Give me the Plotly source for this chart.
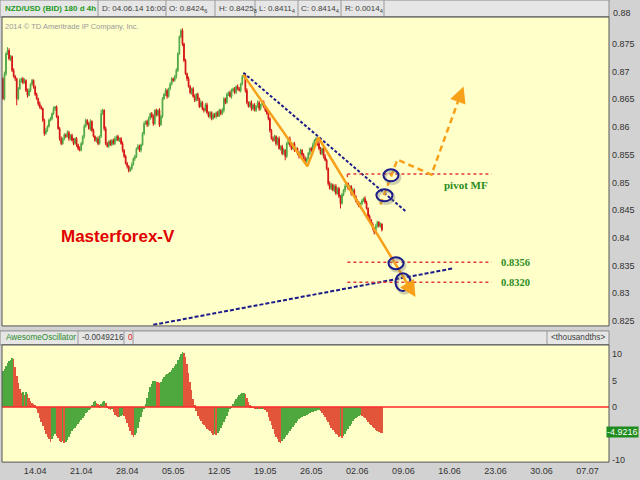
import plotly.graph_objects as go

# ---------------- data (4h bars, index 0 = Mon 14.04 00:00) ----------------
first_bar = -21
first_open = 0.8687
close = [
    0.8651, 0.8696, 0.8732, 0.8738, 0.8723, 0.8727, 0.8702, 0.8691, 0.8687, 0.8651,
    0.8669, 0.8684, 0.8687, 0.8680, 0.8684, 0.8666, 0.8657, 0.8666, 0.8677, 0.8684, 0.8673,
    0.8659, 0.8651, 0.8642, 0.8636, 0.8633, 0.8612, 0.8588, 0.8594, 0.8601, 0.8612,
    0.8615, 0.8624, 0.8633, 0.8636, 0.8619, 0.8597, 0.8579, 0.8570, 0.8579, 0.8586,
    0.8583, 0.8590, 0.8579, 0.8585, 0.8576, 0.8570, 0.8579, 0.8568, 0.8561, 0.8558,
    0.8570, 0.8583, 0.8601, 0.8612, 0.8606, 0.8597, 0.8610, 0.8594, 0.8583, 0.8576,
    0.8579, 0.8570, 0.8583, 0.8624, 0.8630, 0.8597, 0.8570, 0.8565, 0.8574, 0.8568,
    0.8576, 0.8570, 0.8579, 0.8583, 0.8576, 0.8579, 0.8570, 0.8558, 0.8547, 0.8534,
    0.8529, 0.8521, 0.8525, 0.8532, 0.8543, 0.8547, 0.8561, 0.8565, 0.8558, 0.8568,
    0.8588, 0.8606, 0.8610, 0.8604, 0.8615, 0.8624, 0.8619, 0.8606, 0.8630, 0.8622,
    0.8630, 0.8604, 0.8619, 0.8651, 0.8659, 0.8666, 0.8655, 0.8669, 0.8677, 0.8687,
    0.8684, 0.8691, 0.8702, 0.8732, 0.8763, 0.8774, 0.8750, 0.8720, 0.8696, 0.8687,
    0.8673, 0.8662, 0.8669, 0.8655, 0.8648, 0.8659, 0.8651, 0.8637, 0.8644, 0.8633,
    0.8630, 0.8640, 0.8626, 0.8619, 0.8626, 0.8615, 0.8622, 0.8619, 0.8626, 0.8620,
    0.8630, 0.8624, 0.8630, 0.8651, 0.8644, 0.8659, 0.8662, 0.8655, 0.8666, 0.8669,
    0.8662, 0.8673, 0.8669, 0.8666, 0.8678, 0.8691, 0.8694, 0.8666, 0.8644, 0.8637,
    0.8644, 0.8633, 0.8640, 0.8630, 0.8637, 0.8644, 0.8633, 0.8640, 0.8644, 0.8637,
    0.8630, 0.8624, 0.8615, 0.8594, 0.8579, 0.8576, 0.8583, 0.8570, 0.8579, 0.8561,
    0.8565, 0.8552, 0.8558, 0.8547, 0.8570, 0.8579, 0.8568, 0.8561, 0.8570, 0.8558,
    0.8561, 0.8552, 0.8547, 0.8558, 0.8550, 0.8543, 0.8538, 0.8543, 0.8552, 0.8561,
    0.8558, 0.8568, 0.8576, 0.8579, 0.8570, 0.8561, 0.8552, 0.8561, 0.8547, 0.8540,
    0.8525, 0.8498, 0.8489, 0.8496, 0.8486, 0.8493, 0.8480, 0.8489, 0.8475, 0.8462,
    0.8478, 0.8486, 0.8493, 0.8498, 0.8489, 0.8493, 0.8480, 0.8486, 0.8475, 0.8467,
    0.8462, 0.8457, 0.8462, 0.8467, 0.8471, 0.8464, 0.8453, 0.8439, 0.8432, 0.8425,
    0.8417, 0.8410, 0.8421, 0.8428, 0.8421, 0.8425, 0.84144,
]
# wick lengths in pips (0.0001) above/below the candle body
up_wick = [
    3, 4, 3, 6, 4, 3, 2, 4, 3, 2, 3, 4, 2, 3, 4, 2, 3, 4, 2, 3, 2,
    2, 3, 2, 4, 3, 2, 3, 4, 2, 3,
    3, 2, 4, 2, 3, 2, 3, 4, 2, 3,
    2, 4, 3, 2, 3, 4, 2, 3, 2, 4,
    3, 2, 4, 3, 2, 3, 4, 2, 3, 2,
    3, 4, 2, 7, 3, 2, 4, 3, 2, 3,
    2, 3, 4, 2, 3, 2, 3, 4, 2, 3,
    3, 2, 3, 4, 2, 3, 2, 4, 3, 2,
    3, 4, 2, 3, 4, 2, 3, 4, 2, 3,
    2, 4, 3, 3, 2, 4, 3, 2, 4, 3,
    2, 3, 4, 3, 2, 3, 4, 2, 3, 2,
    4, 3, 2, 3, 4, 2, 3, 2, 4, 3,
    2, 3, 4, 2, 3, 2, 4, 3, 2, 3,
    3, 2, 4, 3, 2, 3, 2, 4, 3, 2,
    3, 2, 4, 3, 2, 3, 2, 3, 4, 2,
    3, 4, 2, 3, 2, 4, 3, 2, 3, 4,
    2, 3, 4, 3, 2, 4, 3, 2, 3, 4,
    2, 3, 4, 2, 3, 2, 4, 3, 2, 3,
    3, 2, 4, 3, 2, 3, 4, 2, 3, 2,
    3, 4, 2, 3, 2, 4, 3, 2, 3, 4,
    3, 2, 4, 3, 2, 3, 4, 2, 3, 2,
    3, 2, 4, 3, 2, 3, 2, 4, 3, 2,
    3, 4, 2, 3, 2, 4, 3, 2, 3, 2,
    3, 2, 4, 3, 2, 3, 1.2,
]
dn_wick = [
    2, 3, 4, 2, 3, 4, 3, 2, 4, 12, 3, 2, 4, 3, 2, 3, 4, 2, 3, 2, 4,
    3, 2, 4, 3, 2, 3, 4, 2, 3, 2,
    2, 3, 2, 4, 3, 2, 4, 3, 2, 3,
    3, 2, 4, 3, 2, 3, 2, 4, 3, 2,
    2, 3, 4, 2, 3, 2, 4, 3, 2, 3,
    4, 3, 2, 3, 2, 4, 3, 2, 3, 2,
    3, 2, 3, 4, 2, 3, 2, 4, 3, 2,
    4, 3, 2, 3, 2, 4, 3, 2, 3, 4,
    2, 3, 2, 4, 3, 2, 3, 4, 2, 3,
    3, 4, 2, 3, 2, 3, 4, 2, 3, 2,
    3, 2, 4, 3, 2, 3, 4, 3, 2, 4,
    2, 3, 4, 2, 3, 2, 4, 3, 2, 3,
    4, 2, 3, 2, 4, 3, 2, 3, 4, 2,
    2, 3, 2, 4, 3, 2, 3, 2, 4, 3,
    3, 2, 3, 2, 4, 3, 2, 4, 3, 2,
    2, 4, 3, 2, 3, 2, 4, 3, 2, 3,
    3, 2, 3, 4, 2, 3, 2, 4, 3, 2,
    4, 3, 2, 7, 3, 2, 4, 3, 2, 3,
    2, 3, 4, 2, 3, 2, 3, 4, 2, 3,
    3, 2, 3, 2, 4, 3, 2, 3, 4, 2,
    3, 4, 2, 3, 2, 4, 3, 2, 3, 9,
    2, 3, 4, 2, 3, 2, 4, 3, 2, 3,
    3, 2, 4, 3, 2, 3, 2, 4, 3, 2,
    3, 4, 2, 3, 2, 3, 3,
]
# Awesome Oscillator, thousandths
ao = [
    6.8, 7.2, 7.8, 8.3, 8.6, 8.9, 9.3, 9.0,
    7.5, 5.8, 4.5, 3.4,
    2.6, 2.9, 2.3, 2.8, 2.4,
    1.8, 1.2, 0.8, 0.5, 0.3,
    -0.4, -1.2, -2.0, -2.8, -3.6, -4.3, -5.0, -5.6, -6.1, -6.6,
    -6.0, -5.4, -5.1,
    -5.5, -5.9, -6.3, -6.6, -6.4, -6.8, -6.5, -6.2,
    -5.6, -5.0, -4.5, -4.2, -3.9, -3.6, -3.2, -2.8, -2.4, -2.0, -1.6, -1.2, -0.9, -0.5, -0.2,
    0.4, 0.9, 1.1, 0.8, 0.5, 0.3, 0.6, 1.0, 1.2, 0.7, 0.2,
    -0.2, -0.5, -0.4,
    -1.0, -1.4, -1.7, -1.9, -1.8, -1.6, -1.5, -1.7, -2.2,
    -3.0, -3.8, -4.5, -5.2, -5.6, -5.3, -4.8, -3.9, -2.8,
    -1.8, -0.9, -0.2, 0.6,
    1.8, 2.8, 3.7, 4.4, 4.9,
    4.9, 4.8, 4.7, 4.6, 4.7,
    5.2, 5.6, 6.0, 6.2, 6.4, 6.7, 7.0, 7.4, 7.8, 8.2, 8.8,
    9.4, 10.0, 10.4, 10.1, 9.5,
    8.2, 6.5, 4.8, 3.2, 1.6, 0.3,
    -0.8, -1.6, -2.2, -2.7, -3.1, -3.4, -3.8, -4.2, -4.4, -4.6, -4.9, -5.2,
    -5.0, -5.3, -4.8, -4.5, -4.0,
    -3.4, -2.8, -2.2, -1.6, -1.0, -0.4, 0.2, 0.6, 1.1,
    1.5, 1.9, 2.2, 2.4, 2.6, 2.7, 2.5,
    1.8, 1.0, 0.3,
    0.1, -0.1, -0.2, -0.3, -0.2, -0.4, -0.3, -0.2, -0.4, -0.6, -1.0, -1.8, -2.6,
    -3.4, -4.2, -5.0, -5.6, -6.1, -6.5, -6.7, -6.3,
    -6.0, -5.6, -5.3, -4.9, -4.5, -4.1, -3.7, -3.3, -3.0, -2.6, -2.3, -2.0,
    -1.9, -1.7, -1.6, -1.4, -1.3, -1.2, -1.0, -0.9, -0.8, -0.7, -0.6, -0.6, -0.8,
    -1.1, -1.5, -1.9, -2.4, -2.9, -3.4, -3.9, -4.3, -4.7, -5.0, -5.3, -5.6, -5.4, -5.8, -5.5,
    -5.0, -4.6, -4.1, -3.6, -3.1, -2.7, -2.3, -2.0, -1.8, -1.6, -1.5, -1.6, -1.8, -2.1,
    -2.5, -2.8, -3.1, -3.4, -3.7, -4.0, -4.3, -4.5, -4.7, -4.8, -4.9216,
]

week_ticks = [0, 30, 60, 90, 120, 150, 180, 210, 240, 270, 300, 330, 360]
week_labels = ["14.04", "21.04", "28.04", "05.05", "12.05", "19.05", "26.05",
               "02.06", "09.06", "16.06", "23.06", "30.06", "07.07"]
price_ticks = [0.825, 0.83, 0.835, 0.84, 0.845, 0.85, 0.855, 0.86, 0.865, 0.87, 0.875]
price_labels = ["0.825", "0.83", "0.835", "0.84", "0.845", "0.85", "0.855", "0.86",
                "0.865", "0.87", "0.875"]
ao_ticks = [10, 5, 0, -10]
ao_labels = ["10", "5", "0", "-10"]

# drawn analysis (bar index, price)
trend_hi_x, trend_hi_y = [135.7, 241.4], [0.8698, 0.8448]
trend_lo_x, trend_lo_y = [77.0, 272.7], [0.8243, 0.8345]
wave_x, wave_y = [135.7, 177.4, 184.6, 247.9], [0.8694, 0.8529, 0.8581, 0.8293]
alt_x, alt_y = [225.0, 236.1, 258.3, 279.2], [0.8460, 0.8541, 0.8514, 0.8673]
level_names = ["pivot MF", "0.8356", "0.8320"]
level_prices = [0.8515, 0.8356, 0.8320]
level_start, level_end = 203.5, 297.5
circles = [  # x0, x1, y0, y1
    (227.0, 236.8, 0.85019, 0.85235),
    (222.4, 232.9, 0.84659, 0.84875),
    (230.3, 240.1, 0.83435, 0.83651),
    (234.8, 244.6, 0.83040, 0.83363),
]

# ---------------- build ----------------
n = len(close)
bars = list(range(first_bar, first_bar + n))
opens = [first_open] + close[:-1]
highs = [max(o, c) + w * 0.0001 for o, c, w in zip(opens, close, up_wick)]
lows = [min(o, c) - w * 0.0001 for o, c, w in zip(opens, close, dn_wick)]

ao_colors = []
for i, v in enumerate(ao):
    prev = ao[i - 1] if i > 0 else v - 1
    ao_colors.append("#4FA83D" if v >= prev else "#E2553A")

W, H = 640, 480
px = lambda x: x / W
py = lambda y: 1 - y / H

ORANGE = "#F7A11A"
NAVY = "#1C1C8A"
DOTRED = "#E23A3A"
GREEN_TXT = "#2A8C1E"
SANS = "Liberation Sans"

fig = go.Figure()
fig.add_trace(go.Candlestick(
    x=bars[:len(close)], open=opens, high=highs, low=lows, close=close,
    increasing=dict(line=dict(color="#4EA645", width=1), fillcolor="#7EC56E"),
    decreasing=dict(line=dict(color="#D41515", width=1), fillcolor="#D41515"),
    whiskerwidth=0, xaxis="x", yaxis="y", hoverinfo="skip", showlegend=False))

fig.add_trace(go.Bar(x=bars[:len(ao)], y=ao, marker=dict(color=ao_colors, line=dict(width=0)),
                     width=0.42, xaxis="x2", yaxis="y2", showlegend=False))

# trend lines
fig.add_trace(go.Scatter(x=trend_hi_x, y=trend_hi_y, mode="lines",
                         line=dict(color=NAVY, width=2, dash="3px,2px"), showlegend=False))
fig.add_trace(go.Scatter(x=trend_lo_x, y=trend_lo_y, mode="lines",
                         line=dict(color=NAVY, width=2, dash="4px,2px"), showlegend=False))
# red dotted levels
for p in level_prices:
    fig.add_trace(go.Scatter(x=[level_start, level_end], y=[p, p], mode="lines",
                             line=dict(color=DOTRED, width=1.5, dash="dot"), showlegend=False))
fig.add_trace(go.Scatter(x=[level_start, level_start], y=[level_prices[0], level_prices[0] - 0.0010],
                         mode="lines", line=dict(color=DOTRED, width=1.5, dash="dot"), showlegend=False))
# orange waves
fig.add_trace(go.Scatter(x=wave_x[:-1] + [wave_x[-1] - 1.5], y=wave_y[:-1] + [wave_y[-1] + 0.0007],
                         mode="lines", line=dict(color=ORANGE, width=2.5), showlegend=False))
fig.add_trace(go.Scatter(x=alt_x[:-1] + [alt_x[-1] - 1.5], y=alt_y[:-1] + [alt_y[-1] - 0.0011],
                         mode="lines", line=dict(color=ORANGE, width=2.5, dash="6px,4px"),
                         showlegend=False))

shapes = []
# circles with faint shadow
for x0, x1, y0, y1 in circles:
    shapes.append(dict(type="circle", xref="x", yref="y", x0=x0 + 1.0, x1=x1 + 1.0,
                       y0=y0 - 0.0004, y1=y1 - 0.0004,
                       line=dict(color="rgba(120,120,120,0.35)", width=3)))
    shapes.append(dict(type="circle", xref="x", yref="y", x0=x0, x1=x1, y0=y0, y1=y1,
                       line=dict(color=NAVY, width=2)))
# AO zero line
shapes.append(dict(type="line", xref="x2 domain", yref="y2", x0=0, x1=1, y0=0, y1=0,
                   line=dict(color="#FF2A2A", width=1.5)))
# header bars
for (ya, yb) in [(0, 17), (333, 347)]:
    shapes.append(dict(type="rect", xref="paper", yref="paper", x0=px(0), x1=px(609),
                       y0=py(yb), y1=py(ya), fillcolor="#E6E6E6",
                       line=dict(color="#8A8A8A", width=1), layer="below"))
for xs in [98, 166, 215, 255, 298, 341, 384]:
    shapes.append(dict(type="line", xref="paper", yref="paper", x0=px(xs), x1=px(xs),
                       y0=py(17), y1=py(0), line=dict(color="#9A9A9A", width=1)))
for xs in [78, 124, 133, 547]:
    shapes.append(dict(type="line", xref="paper", yref="paper", x0=px(xs), x1=px(xs),
                       y0=py(347), y1=py(333), line=dict(color="#9A9A9A", width=1)))
# plot borders
for (ya, yb) in [(17, 328), (347, 465)]:
    shapes.append(dict(type="rect", xref="paper", yref="paper", x0=px(2), x1=px(609),
                       y0=py(yb), y1=py(ya), line=dict(color="#555555", width=1)))

ann = []
def txt(x, y, s, color="#404040", size=8, anchor="left", bold=False, family=SANS, bg=None):
    d = dict(x=px(x), y=py(y), xref="paper", yref="paper", text=("<b>%s</b>" % s) if bold else s,
             showarrow=False, xanchor=anchor, yanchor="middle",
             font=dict(color=color, size=size, family=family))
    if bg:
        d["bgcolor"] = bg
        d["borderpad"] = 0
    ann.append(d)

txt(3, 9, "NZD/USD (BID) 180 d 4h", color="#1E9A1E", size=8, bold=True)
txt(100, 9, "D: 04.06.14 16:00", size=8)
txt(167, 9, "O: 0.8424<sub>6</sub>", size=8)
txt(217, 9, "H: 0.8425<sub>8</sub>", size=8)
txt(257, 9, "L: 0.8411<sub>4</sub>", size=8)
txt(299, 9, "C: 0.8414<sub>4</sub>", size=8)
txt(343, 9, "R: 0.0014<sub>4</sub>", size=8)
txt(3, 27, "2014 © TD Ameritrade IP Company, Inc.", color="#9A9A9A", size=7.5)
txt(4, 340, "AwesomeOscillator", color="#2A8A2A", size=8.2)
txt(80, 340, "-0.0049216", size=8.2)
txt(126, 340, "0", color="#E02020", size=8.2)
txt(607, 340, "&lt;thousandths&gt;", size=8.2, anchor="right")
txt(59, 238, "Masterforex-V", color="#E00000", size=17, bold=True)
txt(639, 435, "-4.9216", color="#FFFFFF", size=9, bg="#1E8C1E", anchor="right")
txt(611, 13, "0.88", color="#333333", size=9)

for name, p in zip(level_names, level_prices):
    if name == "pivot MF":
        ann.append(dict(x=281, y=p - 0.0020, xref="x", yref="y", text="<b>%s</b>" % name,
                        showarrow=False, xanchor="center",
                        font=dict(color=GREEN_TXT, size=11, family="Liberation Serif")))
    else:
        ann.append(dict(x=302, y=p, xref="x", yref="y", text="<b>%s</b>" % name,
                        showarrow=False, xanchor="left",
                        font=dict(color=GREEN_TXT, size=10.5, family="Liberation Serif")))

# arrowheads
ann.append(dict(x=wave_x[-1], y=wave_y[-1], ax=wave_x[-1] - 6, ay=wave_y[-1] + 0.0027,
                xref="x", yref="y", axref="x", ayref="y", text="", showarrow=True,
                arrowhead=2, arrowsize=1.3, arrowwidth=2.5, arrowcolor=ORANGE))
ann.append(dict(x=alt_x[-1], y=alt_y[-1], ax=alt_x[-1] - 4, ay=alt_y[-1] - 0.0030,
                xref="x", yref="y", axref="x", ayref="y", text="", showarrow=True,
                arrowhead=2, arrowsize=1.3, arrowwidth=2.5, arrowcolor=ORANGE))

axfont = dict(family=SANS, size=9, color="#333333")
fig.update_layout(
    width=W, height=H, margin=dict(l=0, r=0, t=0, b=0),
    paper_bgcolor="#D2D2D2", plot_bgcolor="#FFFFC9",
    showlegend=False, bargap=0,
    xaxis=dict(domain=[px(2), px(609)], range=[-21.6, 374], anchor="y",
               showticklabels=False, showgrid=False, zeroline=False, ticks="",
               rangeslider=dict(visible=False)),
    xaxis2=dict(domain=[px(2), px(609)], range=[-21.6, 374], anchor="y2", matches="x",
                tickmode="array", tickvals=week_ticks, ticktext=week_labels,
                showgrid=False, zeroline=False, ticks="", tickfont=axfont, ticklabelstandoff=2),
    yaxis=dict(domain=[py(328), py(17)], range=[0.82410, 0.87986], side="right",
               tickmode="array", tickvals=price_ticks, ticktext=price_labels,
               showgrid=False, zeroline=False, ticks="", tickfont=axfont, ticklabelstandoff=2),
    yaxis2=dict(domain=[py(465), py(347)], range=[-10.4, 11.7], side="right",
                tickmode="array", tickvals=ao_ticks, ticktext=ao_labels,
                showgrid=False, zeroline=False, ticks="", tickfont=axfont, ticklabelstandoff=2),
    shapes=shapes, annotations=ann,
)

fig.write_html("out.html", config={"displayModeBar": False},
               post_script="document.body.style.margin='0';")
